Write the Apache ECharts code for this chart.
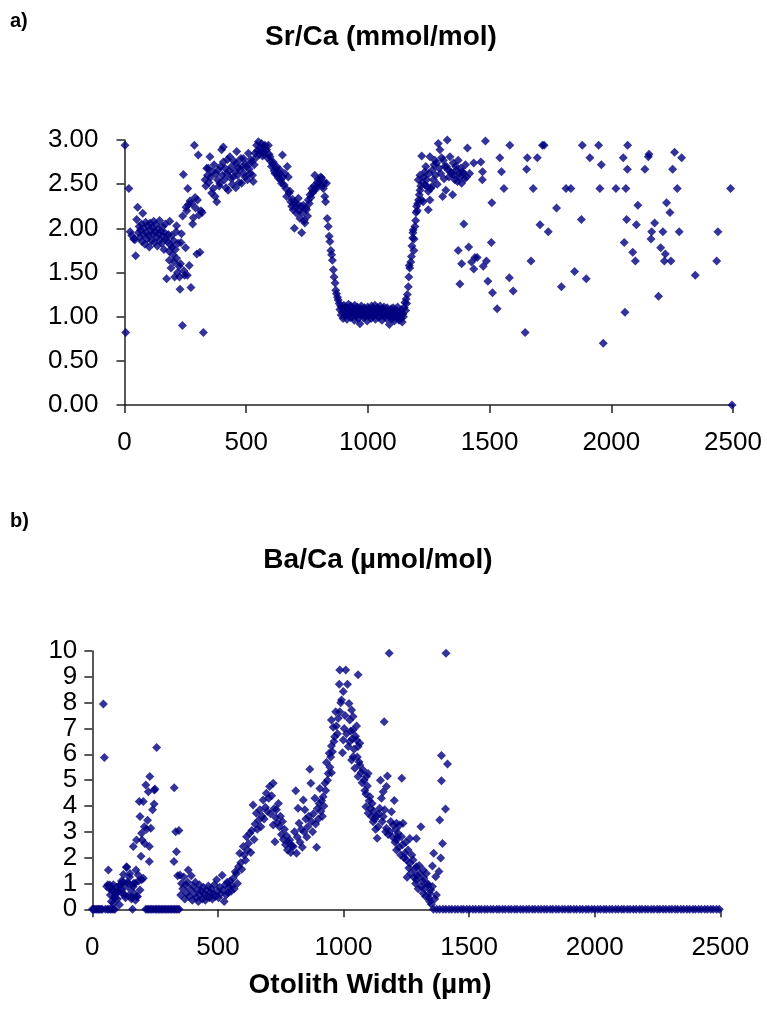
<!DOCTYPE html>
<html>
<head>
<meta charset="utf-8">
<title>Otolith Sr/Ca and Ba/Ca</title>
<script src="https://cdn.jsdelivr.net/npm/echarts@6.0.0/dist/echarts.min.js"></script>
<style>
  html, body { margin: 0; padding: 0; background: #fff; }
  #chart { width: 767px; height: 1029px; }
</style>
</head>
<body>
<div id="chart"></div>
<script>
// x ticks (µm) shared by both panels
const xTicks = [0, 500, 1000, 1500, 2000, 2500];
const srTicks = [0, 0.5, 1, 1.5, 2, 2.5, 3];
const baTicks = [0, 1, 2, 3, 4, 5, 6, 7, 8, 9, 10];

// a) Sr/Ca (mmol/mol), [width, value]
const srCore = [[2,2.94],[5,0.82],[18,2.45],[23,1.96],[30,1.92],[38,1.88],[43,1.87],[46,1.69],[50,2.10],[54,2.24],[57,1.95],[60,2.02],[63,1.90],[66,1.98],[70,2.05],[72,1.85],[75,2.17],[78,1.93],[80,2.00],[84,1.82],[87,2.07],[90,1.95],[93,1.88],[96,2.03],[99,1.92],[102,1.79],[105,2.06],[108,1.98],[111,1.86],[114,2.01],[117,1.93],[120,2.08],[123,1.84],[126,1.96],[129,2.04],[132,1.90],[135,1.80],[138,1.99],[141,1.94],[144,2.09],[147,1.87],[150,1.97],[153,1.83],[156,2.02],[159,1.91],[162,1.76],[165,1.95],[168,2.05],[171,1.88],[173,1.43],[176,1.85],[180,1.93],[183,1.74],[184,1.64],[186,2.08],[189,1.81],[191,1.55],[194,1.92],[196,1.79],[199,1.70],[202,1.86],[204,1.62],[206,1.45],[209,1.76],[212,1.96],[214,1.66],[214,2.03],[218,1.50],[220,1.83],[224,1.57],[226,1.45],[228,1.31],[230,1.60],[232,1.84],[234,1.94],[238,0.90],[239,2.14],[242,2.61],[244,1.52],[247,1.47],[251,1.78],[253,2.24],[256,2.20],[258,1.47],[260,2.45],[263,2.27],[266,1.58],[269,2.31],[273,1.33],[276,2.28],[280,2.05],[283,2.12],[287,2.94],[290,2.35],[292,2.23],[297,1.71],[300,2.32],[303,2.83],[306,2.15],[310,1.73],[314,2.20],[319,2.18],[324,0.82]];
const srPlateau = [[331,2.55],[334,2.48],[338,2.68],[341,2.60],[344,2.68],[347,2.52],[351,2.81],[354,2.58],[358,2.40],[361,2.64],[365,2.45],[368,2.72],[372,2.36],[375,2.62],[379,2.30],[382,2.55],[385,2.66],[389,2.48],[392,2.51],[395,2.70],[399,2.89],[402,2.60],[406,2.92],[406,2.75],[410,2.55],[413,2.68],[417,2.46],[420,2.62],[423,2.78],[426,2.43],[430,2.65],[433,2.81],[436,2.57],[440,2.70],[443,2.50],[447,2.58],[450,2.76],[454,2.64],[457,2.46],[461,2.87],[461,2.74],[464,2.60],[468,2.69],[471,2.52],[474,2.66],[478,2.79],[481,2.51],[485,2.70],[488,2.79],[491,2.62],[495,2.58],[498,2.73],[502,2.70],[505,2.55],[509,2.85],[512,2.67],[516,2.62],[519,2.78],[522,2.75],[526,2.60],[529,2.53],[533,2.72],[536,2.85],[540,2.80],[543,2.94],[546,2.88],[550,2.98],[553,2.84],[557,2.91],[560,2.87],[563,2.96],[567,2.82],[570,2.85],[573,2.93],[577,2.94],[580,2.88],[584,2.89],[587,2.80],[591,2.94],[594,2.84],[598,2.81],[601,2.76],[604,2.70],[608,2.73],[611,2.75],[615,2.65],[618,2.62],[622,2.68],[625,2.70],[629,2.60],[632,2.57],[636,2.63],[639,2.66],[642,2.55],[645,2.51],[649,2.83],[652,2.58],[656,2.49],[659,2.62],[663,2.45],[666,2.36],[669,2.70],[673,2.58],[676,2.40],[680,2.42],[683,2.30],[687,2.25],[690,2.33],[693,2.21],[696,2.28],[698,2.00],[700,2.30],[704,2.24],[707,2.17],[711,2.27],[714,2.34],[718,2.20],[721,2.11],[725,2.25],[728,1.95],[731,2.18],[735,2.26],[738,2.09],[741,2.06],[745,2.23],[748,2.21],[752,2.14],[755,2.32],[759,2.28],[762,2.38],[766,2.35],[769,2.45],[772,2.40],[775,2.42],[779,2.48],[782,2.60],[785,2.44],[789,2.47],[792,2.52],[796,2.55],[799,2.50],[803,2.51],[806,2.58],[810,2.57],[813,2.48],[817,2.45],[820,2.52],[823,2.36],[826,2.30],[830,2.51],[833,2.11],[837,2.02],[841,1.91],[844,1.85],[848,1.75],[851,1.70],[854,1.64],[858,1.53],[861,1.45],[865,1.38],[868,1.30],[871,1.26],[875,1.22],[878,1.19]];
const srTrough = [[882,1.15],[885,1.08],[888,1.12],[890,1.02],[893,1.10],[896,1.05],[898,0.98],[901,1.13],[904,1.07],[906,1.01],[909,1.11],[912,1.04],[914,0.97],[917,1.09],[920,1.14],[922,1.03],[925,1.06],[928,0.99],[930,1.12],[933,1.05],[936,1.00],[938,1.10],[941,1.07],[944,0.96],[946,1.13],[949,1.04],[952,1.08],[954,1.01],[957,1.11],[960,0.98],[962,1.06],[965,1.03],[967,0.92],[970,1.09],[973,1.12],[975,1.02],[978,1.07],[981,0.99],[983,1.05],[986,1.10],[989,1.00],[991,1.08],[994,1.03],[997,0.95],[999,1.11],[1002,1.06],[1005,1.01],[1007,1.09],[1010,1.04],[1013,0.98],[1015,1.12],[1018,1.05],[1021,1.00],[1023,1.08],[1026,1.03],[1029,1.13],[1031,0.97],[1034,1.07],[1037,1.02],[1039,1.10],[1042,1.05],[1045,0.99],[1047,1.08],[1050,1.12],[1053,1.01],[1055,1.06],[1058,0.96],[1061,1.09],[1063,1.03],[1066,1.11],[1069,1.00],[1071,1.06],[1074,1.04],[1077,0.98],[1079,1.10],[1082,1.02],[1085,1.07],[1088,0.91],[1090,1.05],[1093,1.00],[1096,1.09],[1098,0.97],[1101,1.04],[1104,1.10],[1106,1.01],[1109,0.95],[1112,1.07],[1114,1.03],[1117,0.99],[1120,1.06],[1122,1.11],[1125,1.00],[1128,0.96],[1130,1.05],[1133,1.02],[1136,0.98],[1138,1.08],[1141,0.94],[1144,1.03],[1146,1.00],[1149,1.10],[1152,1.16],[1155,1.07],[1157,1.20],[1159,1.15]];
const srRise = [[1162,1.25],[1166,1.34],[1168,1.45],[1170,1.58],[1172,1.55],[1176,1.62],[1179,1.68],[1181,1.80],[1184,1.89],[1185,1.95],[1186,1.98],[1189,1.75],[1190,1.88],[1193,2.02],[1196,2.09],[1198,2.18],[1200,2.25],[1203,2.20],[1205,2.28],[1207,2.55],[1208,2.32],[1211,2.38],[1214,2.43],[1214,2.60],[1217,2.48],[1221,2.32],[1221,2.82],[1224,2.52],[1227,2.30],[1230,2.58],[1234,2.49],[1234,2.64],[1238,2.70],[1241,2.55],[1244,2.47],[1248,2.42],[1248,2.21],[1251,2.62],[1255,2.32],[1255,2.81],[1258,2.45],[1262,2.47],[1265,2.66],[1269,2.55],[1272,2.72],[1275,2.77],[1278,2.60],[1282,2.74],[1285,2.50],[1289,2.96],[1292,2.68],[1296,2.89],[1299,2.62],[1303,2.80],[1307,2.36],[1310,2.77],[1313,2.56],[1316,2.70],[1320,2.43],[1323,2.70],[1326,3.00],[1330,2.66],[1333,2.58],[1337,2.81],[1340,2.64],[1344,2.62],[1348,2.38],[1351,2.74],[1354,2.60],[1357,2.55],[1361,2.70],[1364,2.66],[1368,2.53],[1371,2.77],[1371,1.75],[1375,2.62],[1378,2.58],[1378,1.37],[1382,2.68],[1385,2.51],[1385,1.60],[1389,2.64],[1392,2.62],[1394,2.05],[1398,2.56],[1401,2.72],[1405,2.58],[1409,2.91],[1414,1.79],[1418,2.62],[1426,1.62],[1435,2.74],[1435,1.54],[1440,1.67],[1449,1.67]];
const srEdge = [[1464,2.75],[1470,2.55],[1471,2.64],[1474,1.57],[1483,2.99],[1487,1.63],[1493,1.40],[1507,1.84],[1509,2.29],[1512,1.27],[1531,1.09],[1542,2.80],[1549,2.64],[1559,2.45],[1581,1.44],[1583,2.94],[1597,1.29],[1646,0.82],[1652,2.67],[1655,2.80],[1670,1.63],[1679,2.45],[1696,2.80],[1707,2.04],[1717,2.94],[1724,2.94],[1741,1.96],[1775,2.23],[1795,1.34],[1814,2.45],[1834,2.45],[1849,1.51],[1877,2.10],[1881,2.94],[1897,1.43],[1912,2.80],[1948,2.94],[1953,2.45],[1959,2.72],[1967,0.70],[2019,2.45],[2049,2.80],[2053,1.84],[2056,1.05],[2060,2.45],[2063,2.10],[2066,2.67],[2067,2.94],[2088,1.73],[2099,1.63],[2103,2.04],[2109,2.26],[2138,2.67],[2152,2.81],[2155,2.84],[2163,1.88],[2166,1.96],[2178,2.06],[2194,1.23],[2203,1.78],[2212,1.96],[2218,1.63],[2222,1.71],[2227,2.29],[2241,2.18],[2245,1.63],[2252,2.67],[2260,2.86],[2271,2.45],[2279,1.96],[2289,2.80],[2345,1.47],[2433,1.63],[2438,1.96],[2490,2.45],[2496,0.00]];

// b) Ba/Ca (µmol/mol), [width, value]
const baEarly = [[44,7.95],[48,5.88],[57,0.88],[64,1.52],[62,0.95],[68,0.80],[70,0.94],[72,0.55],[76,0.30],[77,0.81],[80,0.72],[84,0.95],[84,0.23],[88,0.48],[90,0.43],[92,0.62],[96,0.85],[97,0.62],[100,0.40],[103,0.75],[104,0.70],[108,0.18],[110,0.94],[112,0.95],[116,1.10],[117,0.75],[120,0.60],[123,1.07],[124,1.35],[128,0.88],[130,0.55],[132,0.45],[136,1.62],[137,1.65],[140,1.05],[143,1.01],[144,0.52],[148,1.25],[150,1.39],[152,0.78],[156,0.40],[156,0.49],[163,0.88],[164,1.00],[168,0.60],[170,1.01],[172,0.35],[174,1.52],[163,2.43],[176,2.68],[176,0.49],[180,0.50],[183,1.33],[184,1.10],[187,4.17],[190,3.59],[190,0.75],[194,2.05],[196,1.14],[196,2.94],[198,2.68],[203,4.17],[203,1.20],[207,3.20],[209,2.55],[213,4.81],[216,3.10],[220,3.45],[223,4.55],[227,2.43],[227,1.85],[229,5.14],[233,3.14],[240,3.85],[246,4.08],[247,4.62],[249,4.66],[256,6.26]];
const baLow = [[326,4.71],[332,3.00],[345,3.05],[335,2.23],[325,1.85],[340,1.30],[349,1.33],[352,0.55],[355,1.00],[360,0.80],[364,1.25],[368,0.40],[372,0.95],[376,0.62],[380,1.05],[382,1.52],[386,0.50],[390,0.78],[394,1.30],[398,0.35],[402,0.90],[406,0.60],[410,1.05],[414,0.45],[418,0.75],[422,0.30],[426,0.95],[430,0.55],[434,0.70],[438,0.40],[442,0.85],[446,0.60],[450,0.35],[454,0.75],[458,0.50],[462,0.90],[466,0.45],[470,0.65],[474,0.80],[478,0.40],[482,0.60],[486,0.95],[490,0.50],[495,1.14],[499,0.70],[503,0.45],[507,0.85],[511,0.60],[517,1.32],[521,0.75],[525,0.30],[529,0.95],[533,0.55],[537,1.05],[541,0.65],[545,0.85],[549,1.10],[553,0.70],[557,0.90],[561,1.20],[565,0.80],[569,1.45],[574,1.39],[578,1.00],[582,1.65],[587,2.17],[591,1.80]];
const baHump = [[595,1.55],[601,2.43],[605,2.10],[610,1.90],[614,2.81],[618,2.30],[622,2.55],[627,2.94],[631,2.20],[635,3.05],[640,4.04],[644,2.70],[648,3.30],[653,3.72],[657,3.10],[662,3.45],[667,3.85],[671,3.20],[676,3.60],[680,4.23],[684,3.50],[689,3.95],[693,4.49],[697,3.80],[702,4.30],[706,4.75],[710,3.70],[714,4.40],[720,4.88],[720,3.26],[724,3.90],[727,2.62],[730,3.55],[733,3.85],[737,3.35],[741,4.10],[745,3.20],[749,3.60],[753,2.90],[757,3.40],[761,2.70],[765,3.10],[769,2.50],[773,2.85],[777,2.30],[781,2.60],[786,2.68],[790,2.20],[795,2.45],[800,2.43],[805,3.00],[810,4.59],[813,2.17],[816,2.80],[819,3.91],[823,3.33],[827,2.60]];
const baPeak = [[832,3.10],[836,2.40],[840,4.23],[843,3.00],[846,3.85],[850,3.50],[854,2.80],[858,3.20],[862,3.60],[866,5.42],[870,4.88],[873,3.40],[877,3.00],[880,3.70],[886,4.30],[889,3.30],[893,2.40],[896,3.90],[900,3.50],[903,4.10],[906,4.68],[910,3.80],[913,4.20],[916,3.60],[919,4.36],[922,4.00],[926,4.88],[929,4.60],[932,5.68],[936,5.00],[939,5.26],[943,6.04],[946,5.50],[949,5.90],[952,5.29],[952,6.32],[952,7.33],[956,6.10],[959,7.05],[962,6.50],[965,6.68],[969,7.65],[972,7.10],[976,6.80],[979,7.40],[983,8.71],[985,7.65],[985,9.26],[989,8.00],[992,8.10],[996,6.06],[999,8.43],[999,6.55],[1003,7.00],[1006,7.50],[1009,9.26],[1012,6.80],[1016,8.71],[1019,6.30],[1022,7.97],[1025,7.33],[1025,6.49],[1029,6.90],[1032,7.72],[1032,5.78],[1035,6.60],[1038,7.46],[1038,6.94],[1038,5.91],[1042,6.20],[1045,5.46],[1048,6.70],[1052,6.55],[1052,7.10],[1055,5.90],[1058,9.08],[1058,6.30],[1058,5.14],[1062,5.70],[1065,6.43],[1065,5.59]];
const baFall = [[1070,5.30],[1074,4.90],[1078,5.39],[1082,5.00],[1085,4.60],[1089,4.46],[1089,3.97],[1091,5.14],[1095,4.77],[1098,5.26],[1098,3.72],[1102,4.20],[1105,4.36],[1108,3.90],[1111,3.59],[1114,4.10],[1118,3.39],[1121,3.80],[1125,3.50],[1128,3.10],[1131,3.60],[1134,2.75],[1138,3.20],[1141,3.70],[1144,3.91],[1147,5.00],[1151,4.30],[1154,3.40],[1158,4.55],[1158,3.59],[1162,7.26],[1164,3.85],[1168,3.00],[1171,4.75],[1171,3.14],[1175,5.16],[1178,2.90],[1182,9.91],[1184,3.01],[1188,3.40],[1191,3.78],[1195,2.80],[1198,3.26],[1202,4.21],[1205,2.60],[1208,3.10],[1211,3.33],[1211,2.68],[1211,2.30],[1215,2.80],[1217,2.94],[1221,2.40],[1224,3.26],[1228,2.10],[1231,2.81],[1232,5.07],[1235,2.50],[1237,3.33],[1241,2.00],[1244,2.17],[1248,2.60],[1251,1.91],[1253,1.24],[1257,2.30],[1260,1.60],[1264,2.74],[1264,1.78],[1268,1.40],[1272,2.10],[1277,1.91],[1280,1.24],[1284,1.55],[1287,1.00],[1290,2.74],[1290,1.65],[1290,1.14],[1294,1.30],[1297,0.80],[1301,1.70],[1304,1.39],[1308,3.20],[1310,0.88],[1314,1.10],[1317,1.52],[1317,0.62],[1320,1.20],[1323,0.81],[1327,0.50],[1330,1.39],[1334,1.00],[1337,0.94],[1340,0.45],[1343,0.62],[1343,0.30],[1347,0.75],[1350,0.20],[1354,0.88],[1354,1.68],[1359,2.17],[1363,0.40],[1367,1.26],[1370,0.55],[1380,1.46],[1383,3.46],[1387,1.99],[1390,4.98],[1390,5.95],[1394,2.55],[1406,3.88],[1408,9.91],[1414,5.63]];
// widths where Ba/Ca reads 0
const baZeroX = [0,5,10,15,20,25,30,35,40,52,60,66,72,78,84,90,160,213,219,225,231,237,243,250,256,262,268,274,280,286,292,298,304,310,316,322,328,334,340,346,1358,1371,1383,1396,1407,1420,1431,1444,1455,1468,1478,1491,1502,1515,1526,1539,1549,1562,1573,1586,1597,1610,1620,1633,1644,1657,1668,1681,1691,1704,1715,1728,1739,1752,1762,1775,1786,1799,1810,1823,1833,1846,1857,1870,1881,1894,1904,1917,1928,1941,1952,1965,1975,1988,1999,2012,2023,2036,2046,2059,2070,2083,2094,2107,2117,2130,2141,2154,2165,2178,2188,2201,2212,2225,2236,2249,2259,2272,2283,2296,2307,2320,2330,2343,2354,2367,2378,2391,2401,2414,2425,2438,2449,2462,2472,2485,2496];

const srData = [].concat(srCore, srPlateau, srTrough, srRise, srEdge);
const baData = [].concat(baZeroX.map(x => [x, 0]), baEarly, baLow, baHump, baPeak, baFall);

const font = "'Liberation Sans', Arial, sans-serif";
const axisLine = { show: true, onZero: false, lineStyle: { color: '#222', width: 1.5 } };
const axisTick = { show: true, inside: false, length: 8, lineStyle: { color: '#222', width: 1.5 } };

function xAxisFor(grid, margin) {
    return {
        type: 'value', gridIndex: grid, min: xTicks[0], max: xTicks[xTicks.length - 1],
        interval: xTicks[1] - xTicks[0],
        axisLine: axisLine, axisTick: axisTick, splitLine: { show: false },
        axisLabel: { color: '#000', fontFamily: font, fontSize: 26, margin: margin, formatter: v => String(v) }
    };
}

let option = {
    animation: false,
    backgroundColor: '#fff',
    title: [
        { text: 'a)', left: 10, top: 11, padding: 0, textStyle: { fontFamily: font, fontSize: 20, fontWeight: 'bold', color: '#000' } },
        { text: 'Sr/Ca (mmol/mol)', left: 381, top: 23, padding: 0, textAlign: 'center', textStyle: { fontFamily: font, fontSize: 28, fontWeight: 'bold', color: '#000' } },
        { text: 'b)', left: 10, top: 511, padding: 0, textStyle: { fontFamily: font, fontSize: 20, fontWeight: 'bold', color: '#000' } },
        { text: 'Ba/Ca (µmol/mol)', left: 378, top: 546, padding: 0, textAlign: 'center', textStyle: { fontFamily: font, fontSize: 28, fontWeight: 'bold', color: '#000' } },
        { text: 'Otolith Width (µm)', left: 370, top: 971, padding: 0, textAlign: 'center', textStyle: { fontFamily: font, fontSize: 28, fontWeight: 'bold', color: '#000' } }
    ],
    grid: [
        { left: 124.5, top: 140, width: 608.5, height: 265 },
        { left: 92.3, top: 651, width: 628, height: 258.3 }
    ],
    xAxis: [xAxisFor(0, 25), xAxisFor(1, 26)],
    yAxis: [
        {
            type: 'value', gridIndex: 0, min: srTicks[0], max: srTicks[srTicks.length - 1],
            interval: srTicks[1] - srTicks[0],
            axisLine: axisLine, axisTick: axisTick, splitLine: { show: false },
            axisLabel: { color: '#000', fontFamily: font, fontSize: 26, margin: 26, formatter: v => v.toFixed(2) }
        },
        {
            type: 'value', gridIndex: 1, min: baTicks[0], max: baTicks[baTicks.length - 1],
            interval: baTicks[1] - baTicks[0],
            axisLine: axisLine, axisTick: axisTick, splitLine: { show: false },
            axisLabel: { color: '#000', fontFamily: font, fontSize: 26, margin: 15 }
        }
    ],
    series: [
        {
            name: 'Sr/Ca', type: 'scatter', xAxisIndex: 0, yAxisIndex: 0,
            symbol: 'diamond', symbolSize: 9, clip: false,
            itemStyle: { color: '#000080' },
            data: srData
        },
        {
            name: 'Ba/Ca', type: 'scatter', xAxisIndex: 1, yAxisIndex: 1,
            symbol: 'diamond', symbolSize: 9, clip: false,
            itemStyle: { color: '#000080' },
            data: baData
        }
    ]
};

var chart = echarts.init(document.getElementById('chart'), null, { renderer: 'canvas' });
chart.setOption(option);
</script>
</body>
</html>
